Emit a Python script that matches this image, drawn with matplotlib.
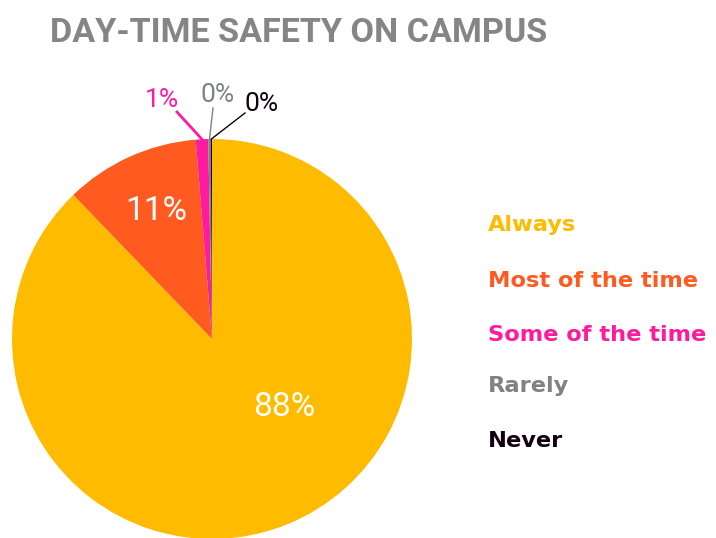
import numpy as np
import matplotlib.pyplot as plt

categories = ['Always', 'Most of the time', 'Some of the time', 'Rarely', 'Never']
values = [87.8, 10.9, 1.0, 0.2, 0.1]
pct_labels = ['88%', '11%', '1%', '0%', '0%']
colors = ['#FFBB00', '#FF5A1F', '#FF1A9E', '#7F8280', '#120010']

fig = plt.figure(figsize=(7.16, 5.38), dpi=100)
# pie centre at (212, 339) px, radius 200 px
ax = fig.add_axes([12 / 716, (538 - 339 - 200) / 538, 400 / 716, 400 / 538])

wedges, _ = ax.pie(values, colors=colors, startangle=90, counterclock=False,
                   radius=1.0, wedgeprops=dict(linewidth=0))
ax.set_xlim(-1, 1)
ax.set_ylim(-1, 1)
ax.set_aspect('equal')
ax.axis('off')

pfont = ['Roboto', 'DejaVu Sans']

# labels inside the two big slices
ax.text(0.36, -0.385, pct_labels[0], color='white', fontsize=24, family=pfont,
        ha='center', va='baseline')
ax.text(-0.28, 0.595, pct_labels[1], color='white', fontsize=24, family=pfont,
        ha='center', va='baseline')

# small slices: labels outside with leader lines
outside = [(2, (-0.175, 1.135), (-0.2525, 1.16)),
           (3, (0.005, 1.155), (0.0275, 1.185)),
           (4, (0.165, 1.13), (0.2475, 1.14))]
for i, line_end, txt_pos in outside:
    m = np.deg2rad((wedges[i].theta1 + wedges[i].theta2) / 2)
    ax.plot([np.cos(m), line_end[0]], [np.sin(m), line_end[1]], color=colors[i],
            lw=2.0 if i == 2 else 1.0, clip_on=False)
    ax.text(txt_pos[0], txt_pos[1], pct_labels[i], color=colors[i], fontsize=19,
            family=pfont, ha='center', va='baseline', clip_on=False)

fig.text(50 / 716, 1 - 42 / 538, 'DAY-TIME SAFETY ON CAMPUS', color='#858585',
         fontsize=24.6, fontweight='bold', family=['Roboto', 'DejaVu Sans'],
         ha='left', va='baseline')

legend_y = [231, 287, 341, 392, 447]
for name, c, y in zip(categories, colors, legend_y):
    fig.text(488 / 716, 1 - y / 538, name, color=c, fontsize=16.2, fontweight='bold',
             family=['DejaVu Sans'], ha='left', va='baseline')

fig.savefig('out.png', dpi=100)
